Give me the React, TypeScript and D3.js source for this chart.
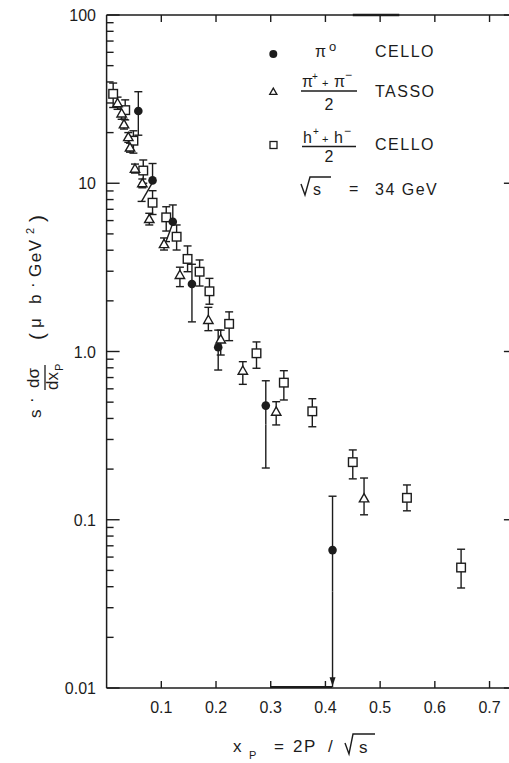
import React from "react";
import * as d3 from "d3";

// π0 CELLO (filled circles)
const circleX = [0.058, 0.084, 0.121, 0.156, 0.204, 0.291, 0.413];
const circleY = [26.9, 10.4, 5.9, 2.52, 1.06, 0.477, 0.066];
const circleLo = [19.3, 7.8, 4.5, 1.5, 0.776, 0.203, 0.0101];
const circleHi = [35, 13.1, 7.43, 3.3, 1.34, 0.67, 0.138];
const circleLoX = [0.058, 0.064, 0.1086, 0.156, 0.204, 0.291, 0.413];

// (π+ + π-)/2 TASSO (open triangles)
const triX = [0.02, 0.0275, 0.0318, 0.0397, 0.0428, 0.0519, 0.0653, 0.078, 0.105, 0.134, 0.186, 0.2086, 0.249, 0.31, 0.4706];
const triY = [29.9, 26, 22.4, 18.8, 16.3, 12.2, 10, 6.13, 4.35, 2.85, 1.54, 1.18, 0.769, 0.439, 0.134];
const triLo = [27.5, 24, 21, 17.5, 15.3, 11.5, 9.4, 5.65, 4.01, 2.43, 1.33, 0.953, 0.638, 0.366, 0.107];
const triHi = [32.5, 28, 24, 20, 17.3, 13, 10.6, 6.63, 4.73, 3.17, 1.83, 1.34, 0.87, 0.503, 0.177];

// (h+ + h-)/2 CELLO (open squares)
const sqX = [0.012, 0.034, 0.049, 0.067, 0.084, 0.109, 0.128, 0.148, 0.17, 0.188, 0.224, 0.274, 0.324, 0.376, 0.45, 0.549, 0.648];
const sqY = [34, 27.2, 17.9, 11.9, 7.66, 6.27, 4.81, 3.55, 2.98, 2.28, 1.46, 0.976, 0.653, 0.441, 0.22, 0.135, 0.052];
const sqLo = [28.2, 23.8, 15.1, 10.0, 6.52, 5.2, 4.01, 2.98, 2.45, 1.91, 1.16, 0.795, 0.515, 0.357, 0.175, 0.113, 0.0393];
const sqHi = [39.4, 31.3, 20.5, 13.75, 9.03, 7.25, 5.65, 4.24, 3.5, 2.72, 1.72, 1.14, 0.769, 0.524, 0.26, 0.161, 0.0668];

const xTicks = [0.1, 0.2, 0.3, 0.4, 0.5, 0.6, 0.7];
const xTickLabels = ["0.1", "0.2", "0.3", "0.4", "0.5", "0.6", "0.7"];
const yMajor = [0.01, 0.1, 1, 10, 100];
const yMajorLabels = ["0.01", "0.1", "1.0", "10", "100"];

const W = 509;
const H = 763;
const INK = "#1c1c1c";
const FONT = "'Liberation Sans', Arial, sans-serif";

export default function App() {
  const x = d3.scaleLinear().domain([0, 0.75]).range([106.6, 516.9]);
  const y = d3.scaleLog().domain([0.01, 100]).range([688, 15]);
  const [x0, x1] = x.range();
  const [yb, yt] = y.range();

  const minor: number[] = [];
  for (let e = -2; e < 2; e++) {
    for (let m = 2; m <= 9; m++) minor.push(m * Math.pow(10, e));
  }

  const cap = 4;
  const errBar = (
    key: string,
    cx: number,
    lo: number,
    hi: number,
    loX: number,
    capLo = true
  ) => {
    const px = x(cx);
    const pxl = x(loX);
    return (
      <g key={key} stroke={INK} strokeWidth={1.4} fill="none">
        <line x1={px} y1={y(hi)} x2={px} y2={y(Math.sqrt(lo * hi))} />
        <line x1={px} y1={y(Math.sqrt(lo * hi))} x2={pxl} y2={y(lo)} />
        <line x1={px - cap} x2={px + cap} y1={y(hi)} y2={y(hi)} />
        {capLo && <line x1={pxl - cap} x2={pxl + cap} y1={y(lo)} y2={y(lo)} />}
      </g>
    );
  };

  const tri = (cx: number, cy: number, s: number) =>
    `M${cx},${cy - s}L${cx + s},${cy + s * 0.75}L${cx - s},${cy + s * 0.75}Z`;

  return (
    <svg
      width={W}
      height={H}
      style={{ position: "absolute", left: 0, top: 0, background: "#fff" }}
      fontFamily={FONT}
    >
      <rect x={0} y={0} width={W} height={H} fill="#fff" />
      {/* frame */}
      <g stroke={INK} strokeWidth={1.5} fill="none">
        <line x1={x0} y1={yb} x2={x1} y2={yb} />
        <line x1={x0} y1={yt} x2={x1} y2={yt} />
        <line x1={x0} y1={yb} x2={x0} y2={yt} />
        <line x1={x1} y1={yb} x2={x1} y2={yt} />
        {/* scan artifacts */}
        <line x1={x(0.45)} x2={x(0.535)} y1={yt} y2={yt} strokeWidth={2.6} />
        <line x1={x(0.3)} x2={x(0.412)} y1={yb - 1} y2={yb - 1} strokeWidth={2} />
      </g>
      {/* ticks */}
      <g stroke={INK} strokeWidth={1.4}>
        {xTicks.map((t) => (
          <g key={"xt" + t}>
            <line x1={x(t)} x2={x(t)} y1={yb} y2={yb - 7} />
            <line x1={x(t)} x2={x(t)} y1={yt} y2={yt + 7} />
          </g>
        ))}
        {yMajor.map((t) => (
          <g key={"ym" + t}>
            <line x1={x0} x2={x0 + 13} y1={y(t)} y2={y(t)} />
            <line x1={x1} x2={x1 - 13} y1={y(t)} y2={y(t)} />
          </g>
        ))}
        {minor.map((t) => (
          <g key={"yn" + t}>
            <line x1={x0} x2={x0 + 7} y1={y(t)} y2={y(t)} />
            <line x1={x1} x2={x1 - 7} y1={y(t)} y2={y(t)} />
          </g>
        ))}
      </g>
      {/* tick labels */}
      <g fill={INK} fontSize={16}>
        {xTicks.map((t, i) => (
          <text key={"xl" + t} x={x(t)} y={713} textAnchor="middle">
            {xTickLabels[i]}
          </text>
        ))}
        {yMajor.map((t, i) => (
          <text key={"yl" + t} x={96} y={y(t) + 6} textAnchor="end">
            {yMajorLabels[i]}
          </text>
        ))}
      </g>

      {/* error bars */}
      {sqX.map((v, i) => errBar("se" + i, v, sqLo[i], sqHi[i], v))}
      {triX.map((v, i) => errBar("te" + i, v, triLo[i], triHi[i], v))}
      {circleX.map((v, i) =>
        errBar("ce" + i, v, circleLo[i], circleHi[i], circleLoX[i], circleLo[i] > 0.0101)
      )}
      {circleX.map((v, i) =>
        circleLo[i] <= 0.0101 ? (
          <path
            key={"ar" + i}
            d={`M${x(v) - 3},${y(circleLo[i]) - 10}L${x(v) + 3},${y(circleLo[i]) - 10}L${x(v)},${y(circleLo[i]) - 1}Z`}
            fill={INK}
          />
        ) : null
      )}

      {/* markers */}
      {sqX.map((v, i) => (
        <rect
          key={"s" + i}
          x={x(v) - 4.3}
          y={y(sqY[i]) - 4.3}
          width={8.6}
          height={8.6}
          fill="#fff"
          stroke={INK}
          strokeWidth={1.4}
        />
      ))}
      {triX.map((v, i) => (
        <path key={"t" + i} d={tri(x(v), y(triY[i]), 4.7)} fill="#fff" stroke={INK} strokeWidth={1.4} />
      ))}
      {circleX.map((v, i) => (
        <circle key={"c" + i} cx={x(v)} cy={y(circleY[i])} r={4.3} fill={INK} />
      ))}

      {/* legend */}
      <g fill={INK} fontSize={16} letterSpacing={1.5}>
        <circle cx={273.3} cy={54} r={4} fill={INK} />
        <text x={315} y={57} letterSpacing={0}>π</text>
        <text x={329} y={51} fontSize={13} letterSpacing={0}>o</text>
        <text x={375} y={57}>CELLO</text>

        <path d={tri(273.3, 91.7, 3.6)} fill="none" stroke={INK} strokeWidth={1.3} />
        <text x={302} y={87} letterSpacing={0}>π</text>
        <text x={312} y={80} fontSize={10} letterSpacing={0}>+</text>
        <text x={322} y={87} fontSize={11} letterSpacing={0}>+</text>
        <text x={334} y={87} letterSpacing={0}>π</text>
        <text x={345} y={79} fontSize={12} letterSpacing={0}>−</text>
        <line x1={301} x2={357} y1={91} y2={91} stroke={INK} strokeWidth={1.3} />
        <text x={329} y={110} textAnchor="middle" letterSpacing={0}>2</text>
        <text x={375} y={97}>TASSO</text>

        <rect x={270} y={141.5} width={7} height={7} fill="none" stroke={INK} strokeWidth={1.3} />
        <text x={303} y={143} letterSpacing={0}>h</text>
        <text x={313} y={135} fontSize={10} letterSpacing={0}>+</text>
        <text x={322} y={143} fontSize={11} letterSpacing={0}>+</text>
        <text x={334} y={143} letterSpacing={0}>h</text>
        <text x={344} y={135} fontSize={12} letterSpacing={0}>−</text>
        <line x1={302} x2={356} y1={146.5} y2={146.5} stroke={INK} strokeWidth={1.3} />
        <text x={329} y={162} textAnchor="middle" letterSpacing={0}>2</text>
        <text x={375} y={150}>CELLO</text>

        <path d="M301,184 L305,195 L310,177 L331,177" fill="none" stroke={INK} strokeWidth={1.4} />
        <text x={313} y={195} letterSpacing={0}>s</text>
        <text x={349} y={194} letterSpacing={0}>=</text>
        <text x={375} y={195}>34 GeV</text>
      </g>

      {/* x-axis label */}
      <g fill={INK} fontSize={17}>
        <text x={233} y={752}>x</text>
        <text x={249} y={759} fontSize={11}>P</text>
        <text x={274} y={752}>=</text>
        <text x={293} y={752}>2</text>
        <text x={304} y={752}>P</text>
        <text x={328} y={752}>/</text>
        <path d="M345,743 L349,754 L353,734 L375,734" fill="none" stroke={INK} strokeWidth={1.4} />
        <text x={359} y={753}>s</text>
      </g>

      {/* y-axis label (rotated) */}
      <g transform="translate(41,315) rotate(-90)" fill={INK} fontSize={17}>
        <text x={-103} y={0}>s</text>
        <text x={-88} y={-4}>·</text>
        <text x={-73} y={-2}>dσ</text>
        <line x1={-75} x2={-50} y1={4} y2={4} stroke={INK} strokeWidth={1.3} />
        <text x={-75} y={17}>dx</text>
        <text x={-56} y={22} fontSize={11}>P</text>
        <text x={-25} y={3} fontSize={21}>(</text>
        <text x={-13} y={0}>μ</text>
        <text x={11} y={0}>b</text>
        <text x={27} y={-3}>·</text>
        <text x={38} y={0} letterSpacing={1.5}>GeV</text>
        <text x={81} y={-7} fontSize={11}>2</text>
        <text x={93} y={3} fontSize={21}>)</text>
      </g>
    </svg>
  );
}
